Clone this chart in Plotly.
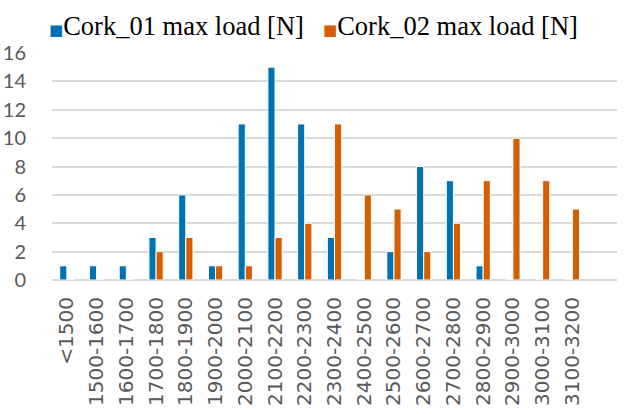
import plotly.graph_objects as go

# Load classes (N) and counts per cork sample
categories = ["<1500", "1500-1600", "1600-1700", "1700-1800", "1800-1900",
              "1900-2000", "2000-2100", "2100-2200", "2200-2300", "2300-2400",
              "2400-2500", "2500-2600", "2600-2700", "2700-2800", "2800-2900",
              "2900-3000", "3000-3100", "3100-3200"]
cork_01 = [1, 1, 1, 3, 6, 1, 11, 15, 11, 3, 0, 2, 8, 7, 1, 0, 0, 0]
cork_02 = [0, 0, 0, 2, 3, 1, 1, 3, 4, 11, 6, 5, 2, 4, 7, 10, 7, 5]
series_names = ["Cork_01 max load [N]", "Cork_02 max load [N]"]
series_colors = ["#0072B2", "#D55E00"]

fig = go.Figure()
for name, vals, col in zip(series_names, [cork_01, cork_02], series_colors):
    fig.add_trace(go.Bar(
        x=categories, y=vals, name=name,
        marker=dict(color=col, line=dict(color="white", width=1)),
        showlegend=False,
    ))

# Legend drawn as text entries with coloured square markers
legend_x = [-0.009, 0.476]
for name, col, lx in zip(series_names, series_colors, legend_x):
    fig.add_annotation(
        xref="paper", yref="paper", x=lx, y=1.0, yshift=10,
        xanchor="left", yanchor="bottom", showarrow=False,
        text=(f'<span style="color:{col};font-family:DejaVu Sans;font-size:15px">■</span>'
              f'{name}'),
        font=dict(family="Liberation Serif", size=26.5, color="black"),
    )

grid = "#D9D9D9"
fig.update_layout(
    width=637, height=414,
    margin=dict(l=52, r=20, t=53, b=134, autoexpand=False),
    paper_bgcolor="white", plot_bgcolor="white",
    barmode="group", bargap=0.52, bargroupgap=0.0,
    xaxis=dict(
        type="category", range=[-0.5, 18.5], automargin=False,
        tickangle=-90, showgrid=False, showline=False, zeroline=False,
        ticks="", ticklabelstandoff=12,
        tickfont=dict(family="DejaVu Sans", size=20, color="#595959"),
    ),
    yaxis=dict(
        range=[0, 16], dtick=2, showgrid=True, gridcolor=grid, gridwidth=2,
        zeroline=True, zerolinecolor=grid, zerolinewidth=2, showline=False,
        automargin=False, ticks="", ticklabelstandoff=25,
        tickfont=dict(family="Lato", size=20, color="#595959"),
    ),
)

fig.write_html("out.html")
